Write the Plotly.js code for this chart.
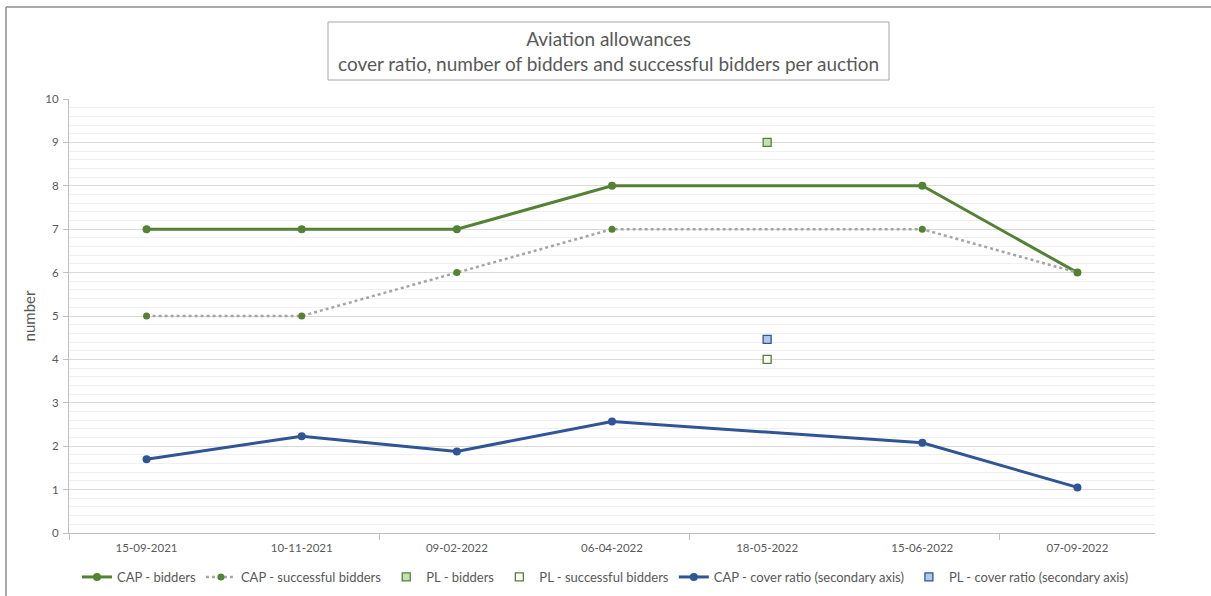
<!DOCTYPE html>
<html>
<head>
<meta charset="utf-8">
<script src="https://cdn.plot.ly/plotly-3.0.1.min.js"></script>
<style>html,body{margin:0;padding:0;background:#fff;}#chart{width:1211px;height:596px;}</style>
</head>
<body>
<div id="chart"></div>
<script>
// ---- data ----
var auctionDates = ["15-09-2021","10-11-2021","09-02-2022","06-04-2022","18-05-2022","15-06-2022","07-09-2022"];
var capBidders = [7, 7, 7, 8, null, 8, 6];
var capSuccessful = [5, 5, 6, 7, null, 7, 6];
var plBidders = [null, null, null, null, 9, null, null];
var plSuccessful = [null, null, null, null, 4, null, null];
var capCoverRatio = [1.70, 2.23, 1.88, 2.57, null, 2.08, 1.05];
var plCoverRatio = [null, null, null, null, 4.46, null, null];
var yTicks = [0,1,2,3,4,5,6,7,8,9,10];

var GREEN = "#548235", BLUE = "#2f5597", GREY = "#a5a5a5";
var FONT = "Lato, 'Open Sans', sans-serif";

var traces = [
  {x: auctionDates, y: capBidders, name: "CAP - bidders", type: "scatter", mode: "lines+markers",
   connectgaps: true, line: {color: GREEN, width: 3}, marker: {color: GREEN, size: 8, symbol: "circle"}},
  {x: auctionDates, y: capSuccessful, name: "CAP - successful bidders", type: "scatter", mode: "lines+markers",
   connectgaps: true, line: {color: GREY, width: 2.5, dash: "dot"}, marker: {color: GREEN, size: 7, symbol: "circle"}},
  {x: auctionDates, y: plBidders, name: "PL - bidders", type: "scatter", mode: "markers",
   marker: {color: "#c5e0b4", size: 8, symbol: "square", line: {color: GREEN, width: 1.3}}},
  {x: auctionDates, y: plSuccessful, name: "PL - successful bidders", type: "scatter", mode: "markers",
   marker: {color: "#ffffff", size: 8, symbol: "square", line: {color: GREEN, width: 1.3}}},
  {x: auctionDates, y: capCoverRatio, name: "CAP - cover ratio (secondary axis)", type: "scatter", mode: "lines+markers",
   connectgaps: true, line: {color: BLUE, width: 3}, marker: {color: BLUE, size: 8, symbol: "circle"}},
  {x: auctionDates, y: plCoverRatio, name: "PL - cover ratio (secondary axis)", type: "scatter", mode: "markers",
   marker: {color: "#b4c7e7", size: 8, symbol: "square", line: {color: BLUE, width: 1.3}}},
  {x: [], y: [], xaxis: "x2", type: "scatter", showlegend: false, hoverinfo: "skip"}
];

var L = 69, R = 1155, T = 99, B = 533, W = 1211, H = 596;
function px(x){ return (x - L) / (R - L); }
function py(y){ return (B - y) / (B - T); }

var layout = {
  width: W, height: H,
  margin: {l: L, r: W - R, t: T, b: H - B, pad: 0, autoexpand: false},
  paper_bgcolor: "#ffffff", plot_bgcolor: "#ffffff",
  font: {family: FONT, color: "#595959", size: 11},
  showlegend: true,
  legend: {orientation: "h", x: 0.5, xanchor: "center", xref: "container",
           y: 1 - 577 / H, yanchor: "middle", yref: "container",
           font: {family: FONT, size: 13, color: "#595959"}, itemwidth: 30, traceorder: "normal"},
  xaxis: {type: "category", range: [-0.5, 6.5], showgrid: false, zeroline: false,
          showline: true, linecolor: "#bfbfbf", linewidth: 1, ticks: "", fixedrange: true,
          ticklabelstandoff: 4,
          tickfont: {family: FONT, size: 11.5, color: "#595959"}},
  xaxis2: {overlaying: "x", type: "linear", range: [-0.5, 6.5], side: "bottom",
           tickvals: [-0.5, 1.5, 3.5, 5.5], showticklabels: false, ticks: "outside",
           ticklen: 6, tickcolor: "#bfbfbf", tickwidth: 1, showgrid: false, zeroline: false, showline: false},
  yaxis: {range: [0, 10], tickvals: yTicks, showgrid: true, gridcolor: "#d9d9d9", gridwidth: 1,
          minor: {dtick: 0.2, showgrid: true, gridcolor: "#f0f0f0", gridwidth: 1},
          zeroline: false, showline: true, linecolor: "#bfbfbf", linewidth: 1,
          ticks: "outside", ticklen: 5, tickcolor: "#bfbfbf", ticklabelstandoff: 2,
          tickfont: {family: FONT, size: 11.5, color: "#595959"},
          title: {text: "number", font: {family: FONT, size: 15, color: "#595959"}, standoff: 6}},
  shapes: [
    {type: "rect", xref: "paper", yref: "paper", x0: px(328), x1: px(889), y0: py(80), y1: py(22),
     line: {color: "#a6a6a6", width: 1}, fillcolor: "rgba(0,0,0,0)"},
    {type: "line", xref: "paper", yref: "paper", x0: px(6), x1: px(6), y0: py(7), y1: py(600),
     line: {color: "#8c8c8c", width: 1.5}},
    {type: "line", xref: "paper", yref: "paper", x0: px(6), x1: px(1215), y0: py(7), y1: py(7),
     line: {color: "#8c8c8c", width: 1.5}}
  ],
  annotations: [
    {xref: "paper", yref: "paper", x: px(608.5), y: py(51), xanchor: "center", yanchor: "middle",
     showarrow: false, align: "center",
     text: "Aviation allowances<br>cover ratio, number of bidders and successful bidders per auction",
     font: {family: FONT, size: 19, color: "#595959"}}
  ]
};

Plotly.newPlot("chart", traces, layout, {displayModeBar: false, staticPlot: true});
</script>
</body>
</html>
